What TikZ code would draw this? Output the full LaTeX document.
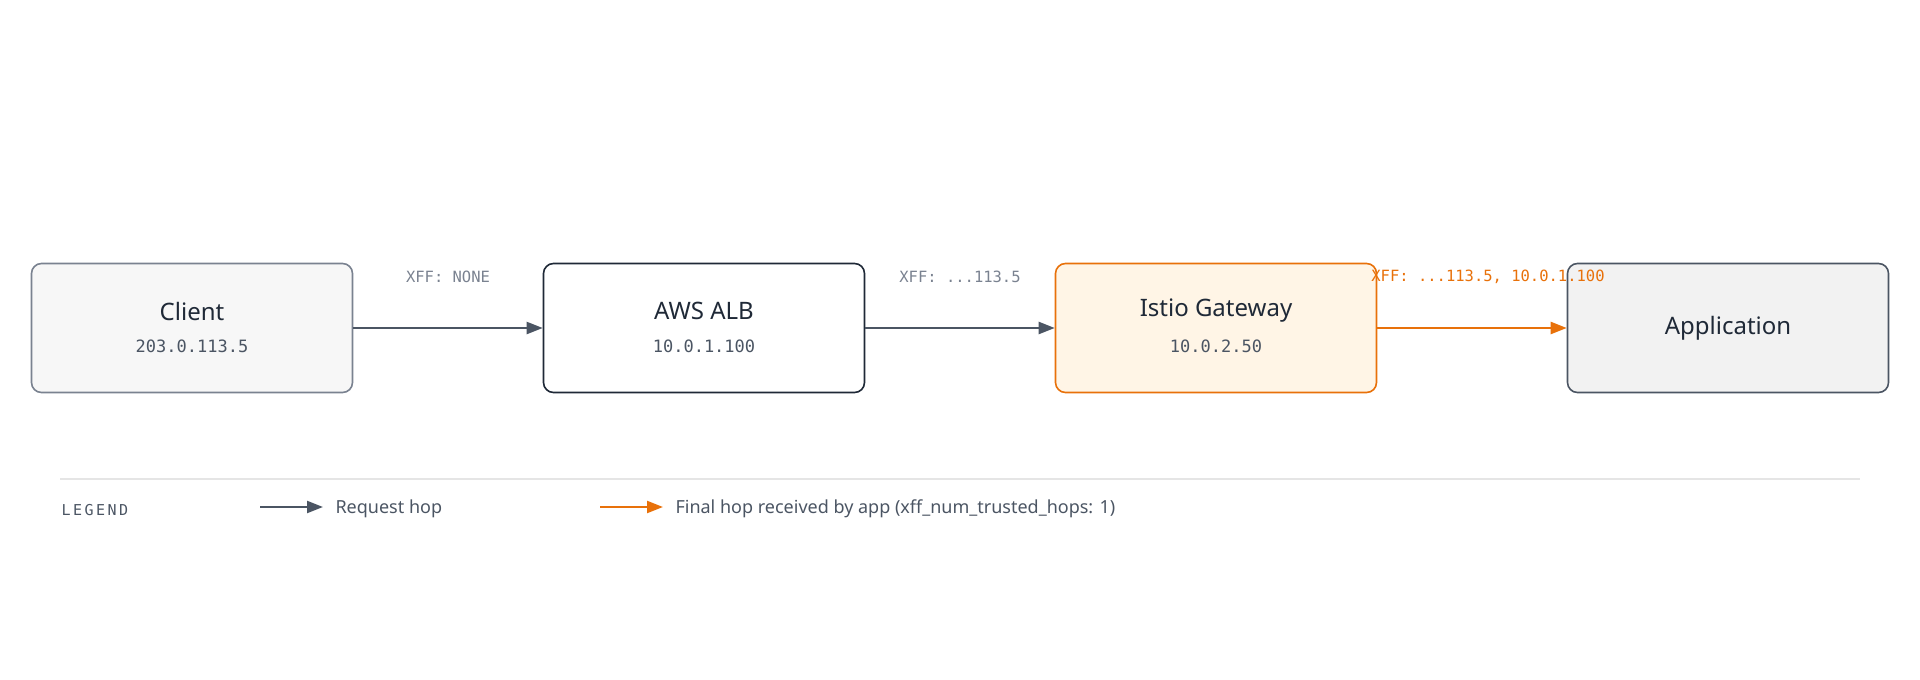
\documentclass[tikz,border=0pt]{standalone}
\usepackage{fontspec}
\setmainfont{Noto Sans}
\newfontfamily\monof{DejaVu Sans Mono}
\usetikzlibrary{arrows.meta}
\definecolor{ink}{HTML}{1F2937}
\definecolor{gr}{HTML}{4B5563}
\definecolor{lbl}{HTML}{7A8290}
\definecolor{org}{HTML}{E8710A}
\definecolor{orgf}{HTML}{FFF5E6}
\begin{document}
\begin{tikzpicture}[x=1pt,y=-1pt,
 box/.style={draw,line width=1.6pt,rounded corners=10pt,minimum width=321pt,minimum height=129pt},
 ttl/.style={font=\fontsize{24}{28}\selectfont\bfseries,text=ink},
 sub/.style={font=\monof\fontsize{17}{20}\selectfont,text=gr},
 elab/.style={font=\monof\fontsize{15.5}{18}\selectfont,text=lbl},
 hop/.style={draw=gr,line width=2.2pt,-{Triangle[length=16pt,width=12pt]}},
 fin/.style={draw=org,line width=2.2pt,-{Triangle[length=16pt,width=12pt]}},
 leg/.style={font=\fontsize{18}{22}\selectfont,text=gr,anchor=west}]
\useasboundingbox (0,0) rectangle (1920,680);
\node[box,draw=lbl,fill=black!3] (c) at (192,328) {};
\node[box,draw=ink,fill=white] (a) at (704,328) {};
\node[box,draw=org,fill=orgf] (g) at (1216,328) {};
\node[box,draw=gr,fill=black!5] (p) at (1728,328) {};
\node[ttl] (ct) at (192,311) {Client};
\node[sub] (cs) at (192,346) {203.0.113.5};
\node[ttl] (at) at (704,311) {AWS ALB};
\node[sub] (as) at (704,346) {10.0.1.100};
\node[ttl] (gt) at (1216,311) {Istio Gateway};
\node[sub] (gs) at (1216,346) {10.0.2.50};
\node[ttl] (pt) at (1728,328) {Application};
\draw[hop] (c.east) -- (a.west);
\draw[hop] (a.east) -- (g.west);
\draw[fin] (g.east) -- (p.west);
\node[elab] (l1) at (448,277) {XFF: NONE};
\node[elab] (l2) at (960,277) {XFF: ...113.5};
\node[elab,text=org] (l3) at (1488,277) {XFF: ...113.5, 10.0.1.100};
\coordinate (s1) at (60,479); \coordinate (s2) at (1860,479);
\draw[black!10,line width=1.2pt] (s1) -- (s2);
\node[anchor=west,font=\monof\fontsize{15}{18}\selectfont,text=gr] (lg) at (58,510) {L\,E\,G\,E\,N\,D};
\coordinate (r1) at (260,507); \coordinate (r2) at (323,507);
\draw[hop] (r1) -- (r2);
\node[leg] (rt) at (332,509) {Request hop};
\coordinate (o1) at (600,507); \coordinate (o2) at (663,507);
\draw[fin] (o1) -- (o2);
\node[leg] (ot) at (672,509) {Final hop received by app (xff\_num\_trusted\_hops: 1)};
\end{tikzpicture}
\end{document}
